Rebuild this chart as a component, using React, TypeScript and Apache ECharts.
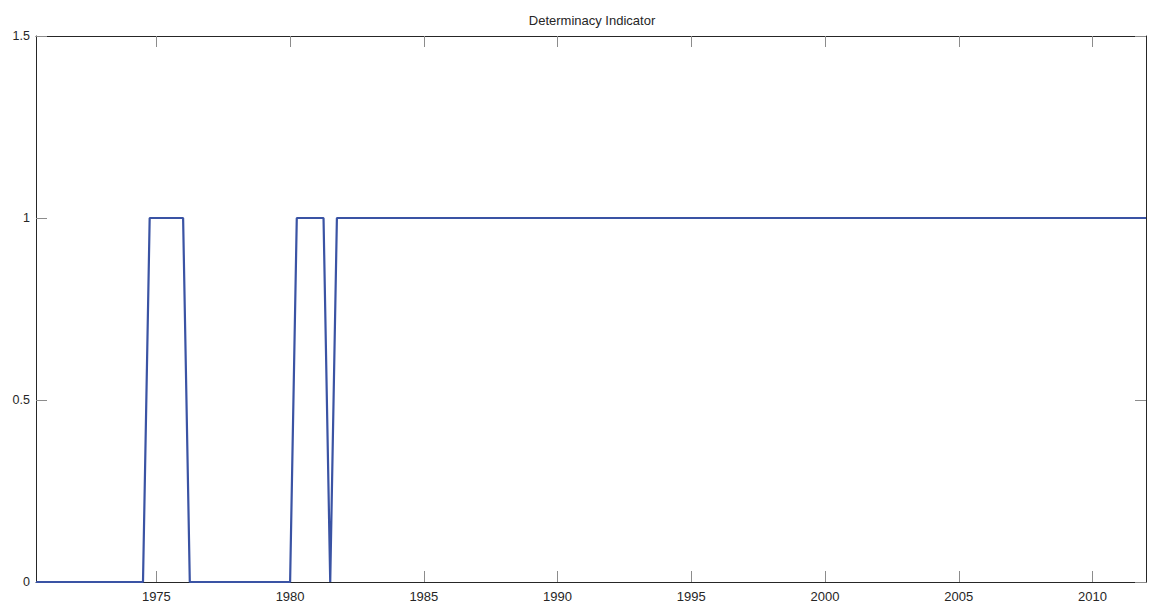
import React, { useEffect, useRef } from "react";
import * as echarts from "echarts";

// Quarterly determinacy indicator (1 = determinate, 0 = indeterminate), 1970Q3 – 2012Q1
const startYear = 1970.5;
const quarterStep = 0.25;
const indicator: number[] = [
  0, 0, // 1970 Q3-Q4
  0, 0, 0, 0, // 1971
  0, 0, 0, 0, // 1972
  0, 0, 0, 0, // 1973
  0, 0, 0, 1, // 1974
  1, 1, 1, 1, // 1975
  1, 0, 0, 0, // 1976
  0, 0, 0, 0, // 1977
  0, 0, 0, 0, // 1978
  0, 0, 0, 0, // 1979
  0, 1, 1, 1, // 1980
  1, 1, 0, 1, // 1981
  1, 1, 1, 1, // 1982
  1, 1, 1, 1, // 1983
  1, 1, 1, 1, // 1984
  1, 1, 1, 1, // 1985
  1, 1, 1, 1, // 1986
  1, 1, 1, 1, // 1987
  1, 1, 1, 1, // 1988
  1, 1, 1, 1, // 1989
  1, 1, 1, 1, // 1990
  1, 1, 1, 1, // 1991
  1, 1, 1, 1, // 1992
  1, 1, 1, 1, // 1993
  1, 1, 1, 1, // 1994
  1, 1, 1, 1, // 1995
  1, 1, 1, 1, // 1996
  1, 1, 1, 1, // 1997
  1, 1, 1, 1, // 1998
  1, 1, 1, 1, // 1999
  1, 1, 1, 1, // 2000
  1, 1, 1, 1, // 2001
  1, 1, 1, 1, // 2002
  1, 1, 1, 1, // 2003
  1, 1, 1, 1, // 2004
  1, 1, 1, 1, // 2005
  1, 1, 1, 1, // 2006
  1, 1, 1, 1, // 2007
  1, 1, 1, 1, // 2008
  1, 1, 1, 1, // 2009
  1, 1, 1, 1, // 2010
  1, 1, 1, 1, // 2011
  1, // 2012 Q1
];

const yearTicks = [1975, 1980, 1985, 1990, 1995, 2000, 2005, 2010];
const xMin = 1970.5;
const xMax = 2012;
const yTicks = [0, 0.5, 1, 1.5];

const FONT = "'Liberation Sans', Arial, Helvetica, sans-serif";
const TEXT = "#262626";
const FRAME = "#262626";
const TICK = "#8c8c8c";

export default function App() {
  const ref = useRef<HTMLDivElement>(null);

  useEffect(() => {
    if (!ref.current) return;
    const chart = echarts.init(ref.current, undefined, { renderer: "svg" });
    const points = indicator.map((v, i) => [startYear + i * quarterStep, v]);

    const xBase = {
      type: "value" as const,
      min: xMin,
      max: xMax,
      axisLine: { show: true, onZero: false, lineStyle: { color: FRAME, width: 1 } },
      axisTick: {
        show: true,
        inside: true,
        length: 11,
        customValues: yearTicks,
        lineStyle: { color: TICK, width: 1 },
      },
      splitLine: { show: false },
    };
    const yBase = {
      type: "value" as const,
      min: 0,
      max: 1.5,
      interval: 0.5,
      axisLine: { show: true, onZero: false, lineStyle: { color: FRAME, width: 1 } },
      axisTick: {
        show: true,
        inside: true,
        length: 11,
        lineStyle: { color: TICK, width: 1 },
      },
      splitLine: { show: false },
    };

    chart.setOption({
      animation: false,
      backgroundColor: "#ffffff",
      title: {
        text: "Determinacy Indicator",
        left: 587,
        textAlign: "center",
        top: 9,
        textStyle: { fontFamily: FONT, fontSize: 13, fontWeight: "normal", color: TEXT },
      },
      grid: { left: 36, right: 12, top: 36, bottom: 28, containLabel: false },
      xAxis: [
        {
          ...xBase,
          position: "bottom",
          axisLabel: {
            show: true,
            customValues: yearTicks,
            fontFamily: FONT,
            fontSize: 13,
            color: TEXT,
            margin: 8,
            formatter: (v: number) => String(v),
          },
        },
        { ...xBase, position: "top", axisLabel: { show: false } },
      ],
      yAxis: [
        {
          ...yBase,
          position: "left",
          axisLabel: {
            show: true,
            fontFamily: FONT,
            fontSize: 12.5,
            color: TEXT,
            margin: 6,
            formatter: (v: number) => (yTicks.includes(v) ? String(v) : ""),
          },
        },
        { ...yBase, position: "right", axisLabel: { show: false } },
      ],
      series: [
        {
          type: "line",
          xAxisIndex: 0,
          yAxisIndex: 0,
          data: points,
          showSymbol: false,
          symbol: "none",
          clip: false,
          z: 5,
          lineStyle: { color: "#3a53a4", width: 2.2 },
        },
      ],
    });

    return () => chart.dispose();
  }, []);

  return (
    <div
      ref={ref}
      style={{ position: "fixed", left: 0, top: 0, width: 1158, height: 610, background: "#fff" }}
    />
  );
}
